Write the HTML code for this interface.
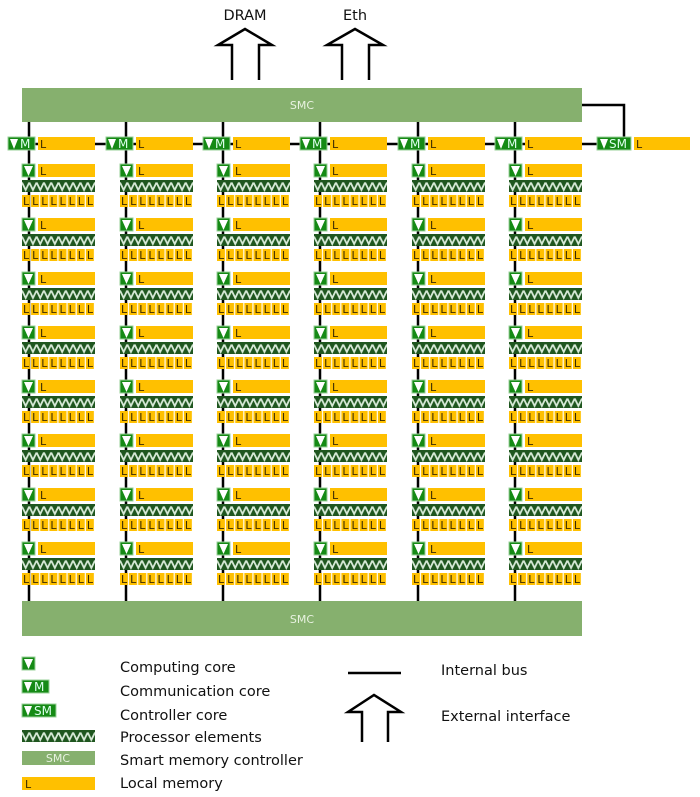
<!DOCTYPE html>
<html><head><meta charset="utf-8"><style>
html,body{margin:0;padding:0;background:#fff;width:700px;height:797px;overflow:hidden}
svg{display:block;font-family:"DejaVu Sans","Liberation Sans",sans-serif}
.cc{fill:#158a15;stroke:#9ad09a;stroke-width:1}
.tri{fill:#fff}
.lb{fill:#ffc000}
.pe{fill:url(#zz)}
.lc{fill:url(#cells)}
.lt{font-size:11px;fill:#3a2a00}
.w{font-size:12px;fill:#dfe}
.smc{fill:#86b06e}
.bus{stroke:#000;stroke-width:2.5;fill:none}
.arr{stroke:#000;stroke-width:2.5;fill:#fff}
.leg{font-size:14.5px;fill:#111}
</style></head><body>
<svg width="700" height="797" viewBox="0 0 700 797">
<defs>
<pattern id="zz" patternUnits="userSpaceOnUse" x="0" y="16" width="7.3" height="12">
<rect width="7.3" height="12" fill="#1f561f"/>
<polyline points="0,2.5 3.65,10 7.3,2.5" fill="none" stroke="#d8ead8" stroke-width="1.8"/>
</pattern>
<pattern id="cells" patternUnits="userSpaceOnUse" x="0" y="31" width="9.125" height="12">
<rect x="0" y="0" width="8" height="12" fill="#ffc000"/>
</pattern>
</defs>

<text x="245" y="20" text-anchor="middle" style="font-size:14.5px" fill="#111">DRAM</text>
<text x="355" y="20" text-anchor="middle" style="font-size:14.5px" fill="#111">Eth</text>
<polyline class="arr" points="232,80 232,45 218,45 245,29 272,45 259,45 259,80"/>
<polyline class="arr" points="342,80 342,45 327,45 355,29 383,45 369,45 369,80"/>

<path class="bus" d="M29,122V601M126,122V601M223,122V601M320,122V601M418,122V601M515,122V601"/>
<path class="bus" d="M20,144H600"/>
<path class="bus" d="M582,105H624V137"/>

<rect class="smc" x="22" y="88" width="560" height="34"/>
<text x="302" y="109" text-anchor="middle" fill="#e8f2e0" style="font-size:11px">SMC</text>
<rect class="smc" x="22" y="601" width="560" height="35"/>
<text x="302" y="623" text-anchor="middle" fill="#e8f2e0" style="font-size:11px">SMC</text>

<g transform="translate(22,137)"><rect class="cc" x="-14" y="0" width="27" height="13"/><path class="tri" d="M-12,2H-4L-8,12Z"/><text class="w" x="-2" y="11">M</text><rect class="lb" x="16" y="0" width="57" height="13"/><text class="lt" x="18" y="11">L</text></g>
<g transform="translate(120,137)"><rect class="cc" x="-14" y="0" width="27" height="13"/><path class="tri" d="M-12,2H-4L-8,12Z"/><text class="w" x="-2" y="11">M</text><rect class="lb" x="16" y="0" width="57" height="13"/><text class="lt" x="18" y="11">L</text></g>
<g transform="translate(217,137)"><rect class="cc" x="-14" y="0" width="27" height="13"/><path class="tri" d="M-12,2H-4L-8,12Z"/><text class="w" x="-2" y="11">M</text><rect class="lb" x="16" y="0" width="57" height="13"/><text class="lt" x="18" y="11">L</text></g>
<g transform="translate(314,137)"><rect class="cc" x="-14" y="0" width="27" height="13"/><path class="tri" d="M-12,2H-4L-8,12Z"/><text class="w" x="-2" y="11">M</text><rect class="lb" x="16" y="0" width="57" height="13"/><text class="lt" x="18" y="11">L</text></g>
<g transform="translate(412,137)"><rect class="cc" x="-14" y="0" width="27" height="13"/><path class="tri" d="M-12,2H-4L-8,12Z"/><text class="w" x="-2" y="11">M</text><rect class="lb" x="16" y="0" width="57" height="13"/><text class="lt" x="18" y="11">L</text></g>
<g transform="translate(509,137)"><rect class="cc" x="-14" y="0" width="27" height="13"/><path class="tri" d="M-12,2H-4L-8,12Z"/><text class="w" x="-2" y="11">M</text><rect class="lb" x="16" y="0" width="57" height="13"/><text class="lt" x="18" y="11">L</text></g>
<g transform="translate(597,137)"><rect class="cc" x="0" y="0" width="34" height="13"/><path class="tri" d="M3,2H11L7,12Z"/><text class="w" x="12" y="11">SM</text><rect class="lb" x="37" y="0" width="56" height="13"/><text class="lt" x="39" y="11">L</text></g>

<g>
<g transform="translate(22,164)"><rect class="cc" width="13" height="13"/><path class="tri" d="M2,2H11L6.5,12Z"/><rect class="lb" x="16" width="57" height="13"/><text class="lt" x="18" y="11">L</text><rect class="pe" y="16" width="73" height="12"/><rect class="lc" y="31" width="73" height="12"/><text class="lt" x="1 10.1 19.3 28.4 37.5 46.6 55.8 64.9" y="41">LLLLLLLL</text></g>
<g transform="translate(22,218)"><rect class="cc" width="13" height="13"/><path class="tri" d="M2,2H11L6.5,12Z"/><rect class="lb" x="16" width="57" height="13"/><text class="lt" x="18" y="11">L</text><rect class="pe" y="16" width="73" height="12"/><rect class="lc" y="31" width="73" height="12"/><text class="lt" x="1 10.1 19.3 28.4 37.5 46.6 55.8 64.9" y="41">LLLLLLLL</text></g>
<g transform="translate(22,272)"><rect class="cc" width="13" height="13"/><path class="tri" d="M2,2H11L6.5,12Z"/><rect class="lb" x="16" width="57" height="13"/><text class="lt" x="18" y="11">L</text><rect class="pe" y="16" width="73" height="12"/><rect class="lc" y="31" width="73" height="12"/><text class="lt" x="1 10.1 19.3 28.4 37.5 46.6 55.8 64.9" y="41">LLLLLLLL</text></g>
<g transform="translate(22,326)"><rect class="cc" width="13" height="13"/><path class="tri" d="M2,2H11L6.5,12Z"/><rect class="lb" x="16" width="57" height="13"/><text class="lt" x="18" y="11">L</text><rect class="pe" y="16" width="73" height="12"/><rect class="lc" y="31" width="73" height="12"/><text class="lt" x="1 10.1 19.3 28.4 37.5 46.6 55.8 64.9" y="41">LLLLLLLL</text></g>
<g transform="translate(22,380)"><rect class="cc" width="13" height="13"/><path class="tri" d="M2,2H11L6.5,12Z"/><rect class="lb" x="16" width="57" height="13"/><text class="lt" x="18" y="11">L</text><rect class="pe" y="16" width="73" height="12"/><rect class="lc" y="31" width="73" height="12"/><text class="lt" x="1 10.1 19.3 28.4 37.5 46.6 55.8 64.9" y="41">LLLLLLLL</text></g>
<g transform="translate(22,434)"><rect class="cc" width="13" height="13"/><path class="tri" d="M2,2H11L6.5,12Z"/><rect class="lb" x="16" width="57" height="13"/><text class="lt" x="18" y="11">L</text><rect class="pe" y="16" width="73" height="12"/><rect class="lc" y="31" width="73" height="12"/><text class="lt" x="1 10.1 19.3 28.4 37.5 46.6 55.8 64.9" y="41">LLLLLLLL</text></g>
<g transform="translate(22,488)"><rect class="cc" width="13" height="13"/><path class="tri" d="M2,2H11L6.5,12Z"/><rect class="lb" x="16" width="57" height="13"/><text class="lt" x="18" y="11">L</text><rect class="pe" y="16" width="73" height="12"/><rect class="lc" y="31" width="73" height="12"/><text class="lt" x="1 10.1 19.3 28.4 37.5 46.6 55.8 64.9" y="41">LLLLLLLL</text></g>
<g transform="translate(22,542)"><rect class="cc" width="13" height="13"/><path class="tri" d="M2,2H11L6.5,12Z"/><rect class="lb" x="16" width="57" height="13"/><text class="lt" x="18" y="11">L</text><rect class="pe" y="16" width="73" height="12"/><rect class="lc" y="31" width="73" height="12"/><text class="lt" x="1 10.1 19.3 28.4 37.5 46.6 55.8 64.9" y="41">LLLLLLLL</text></g>

<g transform="translate(120,164)"><rect class="cc" width="13" height="13"/><path class="tri" d="M2,2H11L6.5,12Z"/><rect class="lb" x="16" width="57" height="13"/><text class="lt" x="18" y="11">L</text><rect class="pe" y="16" width="73" height="12"/><rect class="lc" y="31" width="73" height="12"/><text class="lt" x="1 10.1 19.3 28.4 37.5 46.6 55.8 64.9" y="41">LLLLLLLL</text></g>
<g transform="translate(120,218)"><rect class="cc" width="13" height="13"/><path class="tri" d="M2,2H11L6.5,12Z"/><rect class="lb" x="16" width="57" height="13"/><text class="lt" x="18" y="11">L</text><rect class="pe" y="16" width="73" height="12"/><rect class="lc" y="31" width="73" height="12"/><text class="lt" x="1 10.1 19.3 28.4 37.5 46.6 55.8 64.9" y="41">LLLLLLLL</text></g>
<g transform="translate(120,272)"><rect class="cc" width="13" height="13"/><path class="tri" d="M2,2H11L6.5,12Z"/><rect class="lb" x="16" width="57" height="13"/><text class="lt" x="18" y="11">L</text><rect class="pe" y="16" width="73" height="12"/><rect class="lc" y="31" width="73" height="12"/><text class="lt" x="1 10.1 19.3 28.4 37.5 46.6 55.8 64.9" y="41">LLLLLLLL</text></g>
<g transform="translate(120,326)"><rect class="cc" width="13" height="13"/><path class="tri" d="M2,2H11L6.5,12Z"/><rect class="lb" x="16" width="57" height="13"/><text class="lt" x="18" y="11">L</text><rect class="pe" y="16" width="73" height="12"/><rect class="lc" y="31" width="73" height="12"/><text class="lt" x="1 10.1 19.3 28.4 37.5 46.6 55.8 64.9" y="41">LLLLLLLL</text></g>
<g transform="translate(120,380)"><rect class="cc" width="13" height="13"/><path class="tri" d="M2,2H11L6.5,12Z"/><rect class="lb" x="16" width="57" height="13"/><text class="lt" x="18" y="11">L</text><rect class="pe" y="16" width="73" height="12"/><rect class="lc" y="31" width="73" height="12"/><text class="lt" x="1 10.1 19.3 28.4 37.5 46.6 55.8 64.9" y="41">LLLLLLLL</text></g>
<g transform="translate(120,434)"><rect class="cc" width="13" height="13"/><path class="tri" d="M2,2H11L6.5,12Z"/><rect class="lb" x="16" width="57" height="13"/><text class="lt" x="18" y="11">L</text><rect class="pe" y="16" width="73" height="12"/><rect class="lc" y="31" width="73" height="12"/><text class="lt" x="1 10.1 19.3 28.4 37.5 46.6 55.8 64.9" y="41">LLLLLLLL</text></g>
<g transform="translate(120,488)"><rect class="cc" width="13" height="13"/><path class="tri" d="M2,2H11L6.5,12Z"/><rect class="lb" x="16" width="57" height="13"/><text class="lt" x="18" y="11">L</text><rect class="pe" y="16" width="73" height="12"/><rect class="lc" y="31" width="73" height="12"/><text class="lt" x="1 10.1 19.3 28.4 37.5 46.6 55.8 64.9" y="41">LLLLLLLL</text></g>
<g transform="translate(120,542)"><rect class="cc" width="13" height="13"/><path class="tri" d="M2,2H11L6.5,12Z"/><rect class="lb" x="16" width="57" height="13"/><text class="lt" x="18" y="11">L</text><rect class="pe" y="16" width="73" height="12"/><rect class="lc" y="31" width="73" height="12"/><text class="lt" x="1 10.1 19.3 28.4 37.5 46.6 55.8 64.9" y="41">LLLLLLLL</text></g>

<g transform="translate(217,164)"><rect class="cc" width="13" height="13"/><path class="tri" d="M2,2H11L6.5,12Z"/><rect class="lb" x="16" width="57" height="13"/><text class="lt" x="18" y="11">L</text><rect class="pe" y="16" width="73" height="12"/><rect class="lc" y="31" width="73" height="12"/><text class="lt" x="1 10.1 19.3 28.4 37.5 46.6 55.8 64.9" y="41">LLLLLLLL</text></g>
<g transform="translate(217,218)"><rect class="cc" width="13" height="13"/><path class="tri" d="M2,2H11L6.5,12Z"/><rect class="lb" x="16" width="57" height="13"/><text class="lt" x="18" y="11">L</text><rect class="pe" y="16" width="73" height="12"/><rect class="lc" y="31" width="73" height="12"/><text class="lt" x="1 10.1 19.3 28.4 37.5 46.6 55.8 64.9" y="41">LLLLLLLL</text></g>
<g transform="translate(217,272)"><rect class="cc" width="13" height="13"/><path class="tri" d="M2,2H11L6.5,12Z"/><rect class="lb" x="16" width="57" height="13"/><text class="lt" x="18" y="11">L</text><rect class="pe" y="16" width="73" height="12"/><rect class="lc" y="31" width="73" height="12"/><text class="lt" x="1 10.1 19.3 28.4 37.5 46.6 55.8 64.9" y="41">LLLLLLLL</text></g>
<g transform="translate(217,326)"><rect class="cc" width="13" height="13"/><path class="tri" d="M2,2H11L6.5,12Z"/><rect class="lb" x="16" width="57" height="13"/><text class="lt" x="18" y="11">L</text><rect class="pe" y="16" width="73" height="12"/><rect class="lc" y="31" width="73" height="12"/><text class="lt" x="1 10.1 19.3 28.4 37.5 46.6 55.8 64.9" y="41">LLLLLLLL</text></g>
<g transform="translate(217,380)"><rect class="cc" width="13" height="13"/><path class="tri" d="M2,2H11L6.5,12Z"/><rect class="lb" x="16" width="57" height="13"/><text class="lt" x="18" y="11">L</text><rect class="pe" y="16" width="73" height="12"/><rect class="lc" y="31" width="73" height="12"/><text class="lt" x="1 10.1 19.3 28.4 37.5 46.6 55.8 64.9" y="41">LLLLLLLL</text></g>
<g transform="translate(217,434)"><rect class="cc" width="13" height="13"/><path class="tri" d="M2,2H11L6.5,12Z"/><rect class="lb" x="16" width="57" height="13"/><text class="lt" x="18" y="11">L</text><rect class="pe" y="16" width="73" height="12"/><rect class="lc" y="31" width="73" height="12"/><text class="lt" x="1 10.1 19.3 28.4 37.5 46.6 55.8 64.9" y="41">LLLLLLLL</text></g>
<g transform="translate(217,488)"><rect class="cc" width="13" height="13"/><path class="tri" d="M2,2H11L6.5,12Z"/><rect class="lb" x="16" width="57" height="13"/><text class="lt" x="18" y="11">L</text><rect class="pe" y="16" width="73" height="12"/><rect class="lc" y="31" width="73" height="12"/><text class="lt" x="1 10.1 19.3 28.4 37.5 46.6 55.8 64.9" y="41">LLLLLLLL</text></g>
<g transform="translate(217,542)"><rect class="cc" width="13" height="13"/><path class="tri" d="M2,2H11L6.5,12Z"/><rect class="lb" x="16" width="57" height="13"/><text class="lt" x="18" y="11">L</text><rect class="pe" y="16" width="73" height="12"/><rect class="lc" y="31" width="73" height="12"/><text class="lt" x="1 10.1 19.3 28.4 37.5 46.6 55.8 64.9" y="41">LLLLLLLL</text></g>

<g transform="translate(314,164)"><rect class="cc" width="13" height="13"/><path class="tri" d="M2,2H11L6.5,12Z"/><rect class="lb" x="16" width="57" height="13"/><text class="lt" x="18" y="11">L</text><rect class="pe" y="16" width="73" height="12"/><rect class="lc" y="31" width="73" height="12"/><text class="lt" x="1 10.1 19.3 28.4 37.5 46.6 55.8 64.9" y="41">LLLLLLLL</text></g>
<g transform="translate(314,218)"><rect class="cc" width="13" height="13"/><path class="tri" d="M2,2H11L6.5,12Z"/><rect class="lb" x="16" width="57" height="13"/><text class="lt" x="18" y="11">L</text><rect class="pe" y="16" width="73" height="12"/><rect class="lc" y="31" width="73" height="12"/><text class="lt" x="1 10.1 19.3 28.4 37.5 46.6 55.8 64.9" y="41">LLLLLLLL</text></g>
<g transform="translate(314,272)"><rect class="cc" width="13" height="13"/><path class="tri" d="M2,2H11L6.5,12Z"/><rect class="lb" x="16" width="57" height="13"/><text class="lt" x="18" y="11">L</text><rect class="pe" y="16" width="73" height="12"/><rect class="lc" y="31" width="73" height="12"/><text class="lt" x="1 10.1 19.3 28.4 37.5 46.6 55.8 64.9" y="41">LLLLLLLL</text></g>
<g transform="translate(314,326)"><rect class="cc" width="13" height="13"/><path class="tri" d="M2,2H11L6.5,12Z"/><rect class="lb" x="16" width="57" height="13"/><text class="lt" x="18" y="11">L</text><rect class="pe" y="16" width="73" height="12"/><rect class="lc" y="31" width="73" height="12"/><text class="lt" x="1 10.1 19.3 28.4 37.5 46.6 55.8 64.9" y="41">LLLLLLLL</text></g>
<g transform="translate(314,380)"><rect class="cc" width="13" height="13"/><path class="tri" d="M2,2H11L6.5,12Z"/><rect class="lb" x="16" width="57" height="13"/><text class="lt" x="18" y="11">L</text><rect class="pe" y="16" width="73" height="12"/><rect class="lc" y="31" width="73" height="12"/><text class="lt" x="1 10.1 19.3 28.4 37.5 46.6 55.8 64.9" y="41">LLLLLLLL</text></g>
<g transform="translate(314,434)"><rect class="cc" width="13" height="13"/><path class="tri" d="M2,2H11L6.5,12Z"/><rect class="lb" x="16" width="57" height="13"/><text class="lt" x="18" y="11">L</text><rect class="pe" y="16" width="73" height="12"/><rect class="lc" y="31" width="73" height="12"/><text class="lt" x="1 10.1 19.3 28.4 37.5 46.6 55.8 64.9" y="41">LLLLLLLL</text></g>
<g transform="translate(314,488)"><rect class="cc" width="13" height="13"/><path class="tri" d="M2,2H11L6.5,12Z"/><rect class="lb" x="16" width="57" height="13"/><text class="lt" x="18" y="11">L</text><rect class="pe" y="16" width="73" height="12"/><rect class="lc" y="31" width="73" height="12"/><text class="lt" x="1 10.1 19.3 28.4 37.5 46.6 55.8 64.9" y="41">LLLLLLLL</text></g>
<g transform="translate(314,542)"><rect class="cc" width="13" height="13"/><path class="tri" d="M2,2H11L6.5,12Z"/><rect class="lb" x="16" width="57" height="13"/><text class="lt" x="18" y="11">L</text><rect class="pe" y="16" width="73" height="12"/><rect class="lc" y="31" width="73" height="12"/><text class="lt" x="1 10.1 19.3 28.4 37.5 46.6 55.8 64.9" y="41">LLLLLLLL</text></g>

<g transform="translate(412,164)"><rect class="cc" width="13" height="13"/><path class="tri" d="M2,2H11L6.5,12Z"/><rect class="lb" x="16" width="57" height="13"/><text class="lt" x="18" y="11">L</text><rect class="pe" y="16" width="73" height="12"/><rect class="lc" y="31" width="73" height="12"/><text class="lt" x="1 10.1 19.3 28.4 37.5 46.6 55.8 64.9" y="41">LLLLLLLL</text></g>
<g transform="translate(412,218)"><rect class="cc" width="13" height="13"/><path class="tri" d="M2,2H11L6.5,12Z"/><rect class="lb" x="16" width="57" height="13"/><text class="lt" x="18" y="11">L</text><rect class="pe" y="16" width="73" height="12"/><rect class="lc" y="31" width="73" height="12"/><text class="lt" x="1 10.1 19.3 28.4 37.5 46.6 55.8 64.9" y="41">LLLLLLLL</text></g>
<g transform="translate(412,272)"><rect class="cc" width="13" height="13"/><path class="tri" d="M2,2H11L6.5,12Z"/><rect class="lb" x="16" width="57" height="13"/><text class="lt" x="18" y="11">L</text><rect class="pe" y="16" width="73" height="12"/><rect class="lc" y="31" width="73" height="12"/><text class="lt" x="1 10.1 19.3 28.4 37.5 46.6 55.8 64.9" y="41">LLLLLLLL</text></g>
<g transform="translate(412,326)"><rect class="cc" width="13" height="13"/><path class="tri" d="M2,2H11L6.5,12Z"/><rect class="lb" x="16" width="57" height="13"/><text class="lt" x="18" y="11">L</text><rect class="pe" y="16" width="73" height="12"/><rect class="lc" y="31" width="73" height="12"/><text class="lt" x="1 10.1 19.3 28.4 37.5 46.6 55.8 64.9" y="41">LLLLLLLL</text></g>
<g transform="translate(412,380)"><rect class="cc" width="13" height="13"/><path class="tri" d="M2,2H11L6.5,12Z"/><rect class="lb" x="16" width="57" height="13"/><text class="lt" x="18" y="11">L</text><rect class="pe" y="16" width="73" height="12"/><rect class="lc" y="31" width="73" height="12"/><text class="lt" x="1 10.1 19.3 28.4 37.5 46.6 55.8 64.9" y="41">LLLLLLLL</text></g>
<g transform="translate(412,434)"><rect class="cc" width="13" height="13"/><path class="tri" d="M2,2H11L6.5,12Z"/><rect class="lb" x="16" width="57" height="13"/><text class="lt" x="18" y="11">L</text><rect class="pe" y="16" width="73" height="12"/><rect class="lc" y="31" width="73" height="12"/><text class="lt" x="1 10.1 19.3 28.4 37.5 46.6 55.8 64.9" y="41">LLLLLLLL</text></g>
<g transform="translate(412,488)"><rect class="cc" width="13" height="13"/><path class="tri" d="M2,2H11L6.5,12Z"/><rect class="lb" x="16" width="57" height="13"/><text class="lt" x="18" y="11">L</text><rect class="pe" y="16" width="73" height="12"/><rect class="lc" y="31" width="73" height="12"/><text class="lt" x="1 10.1 19.3 28.4 37.5 46.6 55.8 64.9" y="41">LLLLLLLL</text></g>
<g transform="translate(412,542)"><rect class="cc" width="13" height="13"/><path class="tri" d="M2,2H11L6.5,12Z"/><rect class="lb" x="16" width="57" height="13"/><text class="lt" x="18" y="11">L</text><rect class="pe" y="16" width="73" height="12"/><rect class="lc" y="31" width="73" height="12"/><text class="lt" x="1 10.1 19.3 28.4 37.5 46.6 55.8 64.9" y="41">LLLLLLLL</text></g>

<g transform="translate(509,164)"><rect class="cc" width="13" height="13"/><path class="tri" d="M2,2H11L6.5,12Z"/><rect class="lb" x="16" width="57" height="13"/><text class="lt" x="18" y="11">L</text><rect class="pe" y="16" width="73" height="12"/><rect class="lc" y="31" width="73" height="12"/><text class="lt" x="1 10.1 19.3 28.4 37.5 46.6 55.8 64.9" y="41">LLLLLLLL</text></g>
<g transform="translate(509,218)"><rect class="cc" width="13" height="13"/><path class="tri" d="M2,2H11L6.5,12Z"/><rect class="lb" x="16" width="57" height="13"/><text class="lt" x="18" y="11">L</text><rect class="pe" y="16" width="73" height="12"/><rect class="lc" y="31" width="73" height="12"/><text class="lt" x="1 10.1 19.3 28.4 37.5 46.6 55.8 64.9" y="41">LLLLLLLL</text></g>
<g transform="translate(509,272)"><rect class="cc" width="13" height="13"/><path class="tri" d="M2,2H11L6.5,12Z"/><rect class="lb" x="16" width="57" height="13"/><text class="lt" x="18" y="11">L</text><rect class="pe" y="16" width="73" height="12"/><rect class="lc" y="31" width="73" height="12"/><text class="lt" x="1 10.1 19.3 28.4 37.5 46.6 55.8 64.9" y="41">LLLLLLLL</text></g>
<g transform="translate(509,326)"><rect class="cc" width="13" height="13"/><path class="tri" d="M2,2H11L6.5,12Z"/><rect class="lb" x="16" width="57" height="13"/><text class="lt" x="18" y="11">L</text><rect class="pe" y="16" width="73" height="12"/><rect class="lc" y="31" width="73" height="12"/><text class="lt" x="1 10.1 19.3 28.4 37.5 46.6 55.8 64.9" y="41">LLLLLLLL</text></g>
<g transform="translate(509,380)"><rect class="cc" width="13" height="13"/><path class="tri" d="M2,2H11L6.5,12Z"/><rect class="lb" x="16" width="57" height="13"/><text class="lt" x="18" y="11">L</text><rect class="pe" y="16" width="73" height="12"/><rect class="lc" y="31" width="73" height="12"/><text class="lt" x="1 10.1 19.3 28.4 37.5 46.6 55.8 64.9" y="41">LLLLLLLL</text></g>
<g transform="translate(509,434)"><rect class="cc" width="13" height="13"/><path class="tri" d="M2,2H11L6.5,12Z"/><rect class="lb" x="16" width="57" height="13"/><text class="lt" x="18" y="11">L</text><rect class="pe" y="16" width="73" height="12"/><rect class="lc" y="31" width="73" height="12"/><text class="lt" x="1 10.1 19.3 28.4 37.5 46.6 55.8 64.9" y="41">LLLLLLLL</text></g>
<g transform="translate(509,488)"><rect class="cc" width="13" height="13"/><path class="tri" d="M2,2H11L6.5,12Z"/><rect class="lb" x="16" width="57" height="13"/><text class="lt" x="18" y="11">L</text><rect class="pe" y="16" width="73" height="12"/><rect class="lc" y="31" width="73" height="12"/><text class="lt" x="1 10.1 19.3 28.4 37.5 46.6 55.8 64.9" y="41">LLLLLLLL</text></g>
<g transform="translate(509,542)"><rect class="cc" width="13" height="13"/><path class="tri" d="M2,2H11L6.5,12Z"/><rect class="lb" x="16" width="57" height="13"/><text class="lt" x="18" y="11">L</text><rect class="pe" y="16" width="73" height="12"/><rect class="lc" y="31" width="73" height="12"/><text class="lt" x="1 10.1 19.3 28.4 37.5 46.6 55.8 64.9" y="41">LLLLLLLL</text></g>
</g>

<rect class="cc" x="22" y="657" width="13" height="13"/><path class="tri" d="M24,659H33L28.5,669Z"/>
<rect class="cc" x="22" y="680" width="27" height="13"/><path class="tri" d="M24,682H32L28,692Z"/><text class="w" x="34" y="691">M</text>
<rect class="cc" x="22" y="704" width="34" height="13"/><path class="tri" d="M24,706H32L28,716Z"/><text class="w" x="34" y="715">SM</text>
<g transform="translate(22,714)"><rect class="pe" y="16" width="73" height="12"/></g>
<rect class="smc" x="22" y="751" width="73" height="14"/><text x="58" y="762" text-anchor="middle" fill="#e8f2e0" style="font-size:11px">SMC</text>
<rect class="lb" x="22" y="777" width="73" height="13"/><text class="lt" x="25" y="788">L</text>

<text class="leg" x="120" y="672">Computing core</text>
<text class="leg" x="120" y="696">Communication core</text>
<text class="leg" x="120" y="720">Controller core</text>
<text class="leg" x="120" y="742">Processor elements</text>
<text class="leg" x="120" y="765">Smart memory controller</text>
<text class="leg" x="120" y="788">Local memory</text>

<path class="bus" d="M348,673H401"/>
<polyline class="arr" points="362,742 362,712 348,712 374,695 401,712 388,712 388,742"/>
<text class="leg" x="441" y="675">Internal bus</text>
<text class="leg" x="441" y="721">External interface</text>
</svg>
</body></html>
